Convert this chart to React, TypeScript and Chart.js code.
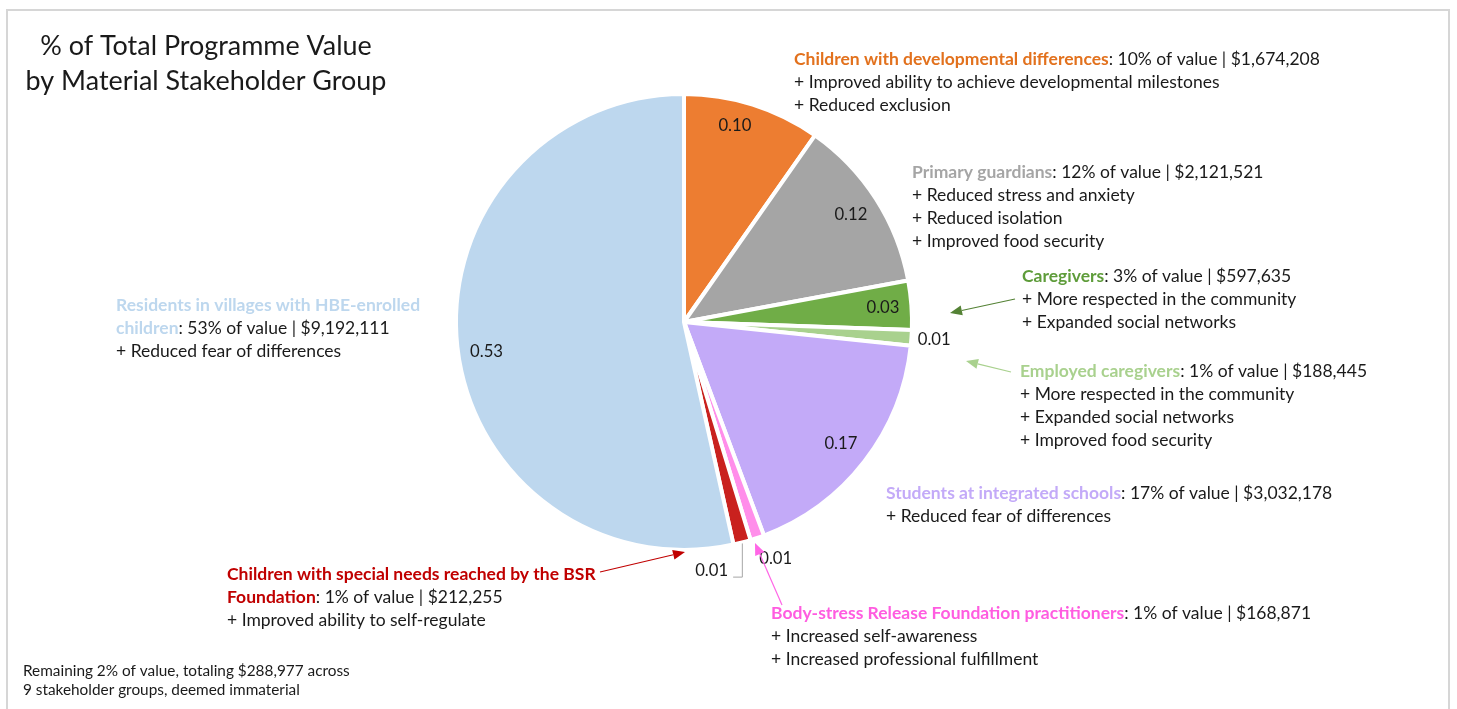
import React, { useEffect, useRef } from "react";
import { Chart, registerables } from "chart.js";

Chart.register(...registerables);

// ---------- data ----------
const groupNameLines: string[][] = [
  ["Children with developmental differences"],
  ["Primary guardians"],
  ["Caregivers"],
  ["Employed caregivers"],
  ["Students at integrated schools"],
  ["Body-stress Release Foundation practitioners"],
  ["Children with special needs reached by the BSR", "Foundation"],
  ["Residents in villages with HBE-enrolled", "children"],
];
const amounts = [1674208, 2121521, 597635, 188445, 3032178, 168871, 212255, 9192111];
const shares = [0.1, 0.12, 0.03, 0.01, 0.17, 0.01, 0.01, 0.53];
const outcomes: string[][] = [
  ["+ Improved ability to achieve developmental milestones", "+ Reduced exclusion"],
  ["+ Reduced stress and anxiety", "+ Reduced isolation", "+ Improved food security"],
  ["+ More respected in the community", "+ Expanded social networks"],
  ["+ More respected in the community", "+ Expanded social networks", "+ Improved food security"],
  ["+ Reduced fear of differences"],
  ["+ Increased self-awareness", "+ Increased professional fulfillment"],
  ["+ Improved ability to self-regulate"],
  ["+ Reduced fear of differences"],
];
const titleLines = ["% of Total Programme Value", "by Material Stakeholder Group"];
const footnoteLines = [
  "Remaining 2% of value, totaling $288,977 across",
  "9 stakeholder groups, deemed immaterial",
];

// ---------- styles / layout ----------
const sliceColors = ["#ED7D31", "#A5A5A5", "#70AD47", "#A9D18E", "#C3AAF8", "#FF8EEA", "#C9211E", "#BDD7EE"];
const nameColors = ["#E2711D", "#A5A5A5", "#5E9C3A", "#A9D18E", "#C3AAF8", "#FF5CE0", "#C00000", "#BDD7EE"];
const blockPos: [number, number][] = [
  [794, 59], [912, 172], [1022, 276], [1020, 371], [886, 493], [771, 613], [227, 574], [116, 305],
];
// [angle shift in degrees (clockwise), radius factor]
const labelPlace: [number, number][] = [
  [-3, 0.89], [0, 0.87], [0, 0.875], [0, 1.1], [0, 0.87], [-2.4, 1.115], [8.4, 1.095], [-2.4, 0.876],
];
const arrows: { from: [number, number]; to: [number, number]; color: string }[] = [
  { from: [1015, 299], to: [950, 313], color: "#548235" },
  { from: [1011, 372], to: [966, 361], color: "#A9D18E" },
  { from: [600, 572], to: [685, 552], color: "#C00000" },
  { from: [782, 605], to: [755, 543], color: "#FF66E6" },
];
const LINE_GAP = 23;
const FONT = "Lato, 'Open Sans', sans-serif";
const TEXT = "#1a1a1a";

function fitSize(ctx: CanvasRenderingContext2D, text: string, target: number, weight = "normal") {
  ctx.font = `${weight} 20px ${FONT}`;
  const w = ctx.measureText(text).width;
  return (20 * target) / w;
}

function arrow(ctx: CanvasRenderingContext2D, a: [number, number], b: [number, number], color: string) {
  const ang = Math.atan2(b[1] - a[1], b[0] - a[0]);
  const L = 12, H = 5;
  const bx = b[0] - Math.cos(ang) * L, by = b[1] - Math.sin(ang) * L;
  ctx.save();
  ctx.strokeStyle = color;
  ctx.fillStyle = color;
  ctx.lineWidth = 1.2;
  ctx.beginPath();
  ctx.moveTo(a[0], a[1]);
  ctx.lineTo(bx, by);
  ctx.stroke();
  ctx.beginPath();
  ctx.moveTo(b[0], b[1]);
  ctx.lineTo(bx - Math.sin(ang) * H, by + Math.cos(ang) * H);
  ctx.lineTo(bx + Math.sin(ang) * H, by - Math.cos(ang) * H);
  ctx.closePath();
  ctx.fill();
  ctx.restore();
}

const annotate = {
  id: "annotate",
  afterDraw(chart: any) {
    const ctx: CanvasRenderingContext2D = chart.ctx;
    ctx.save();
    // frame
    ctx.strokeStyle = "#D6D6D6";
    ctx.lineWidth = 2;
    ctx.beginPath();
    ctx.moveTo(7, 709);
    ctx.lineTo(7, 10);
    ctx.lineTo(1449, 10);
    ctx.lineTo(1449, 709);
    ctx.stroke();

    const bodySize = fitSize(ctx, "+ Reduced stress and anxiety", 223);
    const titleSize = fitSize(ctx, titleLines[1], 361);
    const footSize = fitSize(ctx, footnoteLines[0], 327);
    const dlSize = fitSize(ctx, "0.01", 33);

    // title
    ctx.textBaseline = "middle";
    ctx.textAlign = "center";
    ctx.fillStyle = TEXT;
    ctx.font = `normal ${titleSize}px ${FONT}`;
    ctx.fillText(titleLines[0], 206, 46);
    ctx.fillText(titleLines[1], 206, 81);

    // footnote
    ctx.textAlign = "left";
    ctx.font = `normal ${footSize}px ${FONT}`;
    ctx.fillText(footnoteLines[0], 23, 671);
    ctx.fillText(footnoteLines[1], 23, 690);

    // data labels
    const meta = chart.getDatasetMeta(0);
    meta.data.forEach((arc: any, i: number) => {
      const p = arc.getProps(["x", "y", "startAngle", "endAngle", "outerRadius"], true);
      const mid = (p.startAngle + p.endAngle) / 2 + (labelPlace[i][0] * Math.PI) / 180;
      const r = p.outerRadius * labelPlace[i][1];
      const lx = p.x + Math.cos(mid) * r;
      const ly = p.y + Math.sin(mid) * r;
      ctx.font = `normal ${dlSize}px ${FONT}`;
      ctx.textAlign = "center";
      ctx.fillStyle = TEXT;
      const txt = shares[i].toFixed(2);
      ctx.fillText(txt, lx, ly);
      if (i === 6) {
        // leader line from slice edge
        const m0 = (p.startAngle + p.endAngle) / 2;
        const ex = p.x + Math.cos(m0) * (p.outerRadius + 1);
        const ey = p.y + Math.sin(m0) * (p.outerRadius + 1);
        const w = ctx.measureText(txt).width;
        ctx.strokeStyle = "#A6A6A6";
        ctx.lineWidth = 1;
        ctx.beginPath();
        ctx.moveTo(ex, ey);
        ctx.lineTo(ex, ly + 7);
        ctx.lineTo(lx + w / 2 + 5, ly + 7);
        ctx.stroke();
      }
    });

    // text blocks
    ctx.textAlign = "left";
    groupNameLines.forEach((lines, i) => {
      const [x, y0] = blockPos[i];
      let y = y0;
      lines.forEach((ln, k) => {
        ctx.font = `bold ${bodySize}px ${FONT}`;
        ctx.fillStyle = nameColors[i];
        ctx.fillText(ln, x, y);
        if (k === lines.length - 1) {
          const w = ctx.measureText(ln).width;
          ctx.font = `normal ${bodySize}px ${FONT}`;
          ctx.fillStyle = TEXT;
          const rest = `: ${Math.round(shares[i] * 100)}% of value | $${amounts[i].toLocaleString("en-US")}`;
          ctx.fillText(rest, x + w, y);
        }
        y += LINE_GAP;
      });
      ctx.font = `normal ${bodySize}px ${FONT}`;
      ctx.fillStyle = TEXT;
      outcomes[i].forEach((o) => {
        ctx.fillText(o, x, y);
        y += LINE_GAP;
      });
    });

    arrows.forEach((a) => arrow(ctx, a.from, a.to, a.color));
    ctx.restore();
  },
};

export default function App() {
  const ref = useRef<HTMLCanvasElement | null>(null);
  useEffect(() => {
    if (!ref.current) return;
    const chart = new Chart(ref.current, {
      type: "pie",
      data: {
        labels: groupNameLines.map((l) => l.join(" ")),
        datasets: [
          {
            data: amounts,
            backgroundColor: sliceColors,
            borderColor: "#ffffff",
            borderWidth: 4,
          },
        ],
      },
      options: {
        responsive: false,
        animation: false,
        devicePixelRatio: 1,
        events: [],
        layout: { padding: { left: 454, right: 543, top: 92, bottom: 157 } },
        plugins: {
          legend: { display: false },
          tooltip: { enabled: false },
          title: { display: false },
        },
      },
      plugins: [annotate],
    } as any);
    return () => chart.destroy();
  }, []);
  return (
    <div style={{ position: "absolute", left: 0, top: 0, width: 1457, height: 709, background: "#fff" }}>
      <canvas ref={ref} width={1457} height={709} style={{ display: "block", width: 1457, height: 709 }} />
    </div>
  );
}
